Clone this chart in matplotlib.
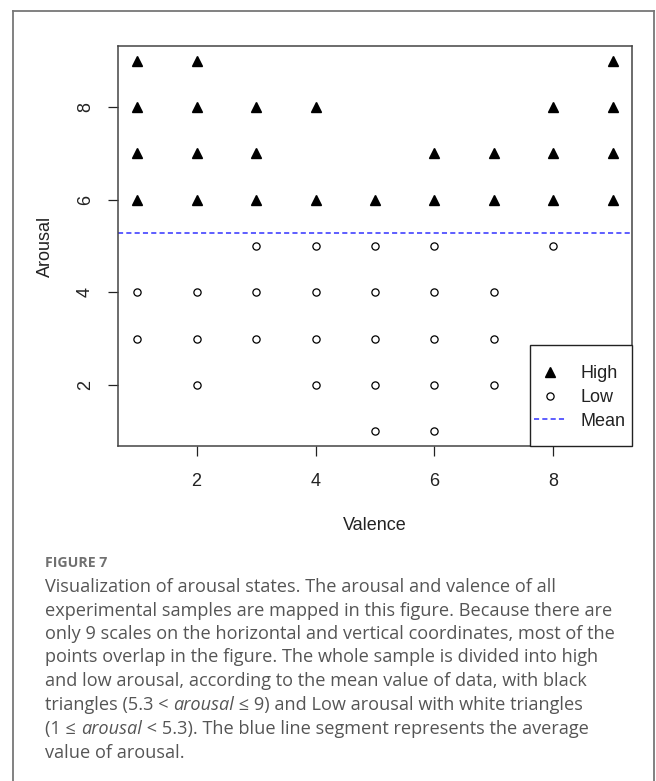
import matplotlib
matplotlib.use("Agg")
import matplotlib.pyplot as plt
from matplotlib.lines import Line2D
from matplotlib.patches import Rectangle
from matplotlib.font_manager import FontProperties

# ---- data ----
high_valence = [1, 1, 1, 1, 2, 2, 2, 2, 3, 3, 3, 4, 4, 5, 6, 6, 7, 7, 8, 8, 8, 9, 9, 9, 9]
high_arousal = [6, 7, 8, 9, 6, 7, 8, 9, 6, 7, 8, 6, 8, 6, 6, 7, 6, 7, 6, 7, 8, 6, 7, 8, 9]
low_valence = [1, 1, 2, 2, 2, 3, 3, 3, 4, 4, 4, 4, 5, 5, 5, 5, 5, 6, 6, 6, 6, 6, 7, 7, 7, 8]
low_arousal = [3, 4, 2, 3, 4, 3, 4, 5, 2, 3, 4, 5, 1, 2, 3, 4, 5, 1, 2, 3, 4, 5, 2, 3, 4, 5]
mean_arousal = 5.28
x_ticks = [2, 4, 6, 8]
y_ticks = [2, 4, 6, 8]
legend_labels = ["High", "Low", "Mean"]

W, H = 656, 781
fig = plt.figure(figsize=(W / 100, H / 100), dpi=100)

def fx(px):
    return px / W

def fy(py):
    return 1 - py / H

# axes box: left 118, right 632, top 46, bottom 446 (pixels)
ax = fig.add_axes([fx(118), fy(446), fx(632) - fx(118), fy(46) - fy(446)])

rfont = "Liberation Sans"
fs = 13
blue = "#3a3aff"

ax.plot(high_valence, high_arousal, linestyle="none", marker="^", ms=7.5,
        color="black", label=legend_labels[0])
ax.plot(low_valence, low_arousal, linestyle="none", marker="o", ms=5.2,
        markerfacecolor="white", markeredgecolor="black", markeredgewidth=0.9,
        label=legend_labels[1])
ax.axhline(mean_arousal, color=blue, linestyle=(0, (3.2, 2.0)), lw=1.15,
           label=legend_labels[2])

ax.set_xlim(0.68, 9.32)
ax.set_ylim(0.68, 9.32)
ax.set_xticks(x_ticks)
ax.set_yticks(y_ticks)
ax.tick_params(direction="out", length=7.2, width=0.9, color="#222",
               labelsize=fs, pad=12)
ax.tick_params(axis="y", labelrotation=90, pad=10)
for lab in ax.get_yticklabels():
    lab.set_va("center")
for lab in ax.get_xticklabels() + ax.get_yticklabels():
    lab.set_fontfamily(rfont)
    lab.set_color("#222")
for s in ax.spines.values():
    s.set_linewidth(1.1)
    s.set_color("#444")

# legend box (R style, flush with the bottom-right corner)
ax.add_patch(Rectangle((fx(530), fy(446)), fx(632) - fx(530), fy(345) - fy(446),
                       transform=fig.transFigure, facecolor="white",
                       edgecolor="#222", lw=1.0, zorder=5, clip_on=False))
leg = ax.legend(loc="center left", bbox_to_anchor=(fx(534), fy(397.5)),
                bbox_transform=fig.transFigure, frameon=False,
                prop=FontProperties(family=rfont, size=fs),
                handlelength=1.8, handletextpad=0.75, labelspacing=0.37,
                borderpad=0, borderaxespad=0)
leg.set_zorder(6)
for t in leg.get_texts():
    t.set_color("#222")

fig.text(fx(375), fy(526), "Valence", ha="center", va="center",
         family=rfont, fontsize=fs, color="#222")
fig.text(fx(45), fy(246), "Arousal", ha="center", va="center", rotation=90,
         family=rfont, fontsize=fs, color="#222")

# ---- outer frame ----
fcol = "#777777"
fig.add_artist(Line2D([fx(12.5), fx(12.5)], [fy(10.5), 0], color=fcol, lw=1.3))
fig.add_artist(Line2D([fx(12.5), fx(653.5)], [fy(10.5), fy(10.5)], color=fcol, lw=1.3))
fig.add_artist(Line2D([fx(653.5), fx(653.5)], [fy(10.5), 0], color=fcol, lw=1.3))

# ---- caption ----
cap_font = ["Open Sans", "DejaVu Sans"]
cap_col = "#555555"
cap_fs = 13.1
fig.text(fx(45), fy(563), "FIGURE 7", ha="left", va="center",
         family=cap_font, fontsize=10.2, fontweight="bold", color="#707070")

lines = [
    [("Visualization of arousal states. The arousal and valence of all", "normal")],
    [("experimental samples are mapped in this figure. Because there are", "normal")],
    [("only 9 scales on the horizontal and vertical coordinates, most of the", "normal")],
    [("points overlap in the figure. The whole sample is divided into high", "normal")],
    [("and low arousal, according to the mean value of data, with black", "normal")],
    [("triangles (5.3 < ", "normal"), ("arousal", "italic"),
     (" \u2264 9) and Low arousal with white triangles", "normal")],
    [("(1 \u2264 ", "normal"), ("arousal", "italic"),
     (" < 5.3). The blue line segment represents the average", "normal")],
    [("value of arousal.", "normal")],
]
line_y = [587, 610.5, 634, 657.5, 681, 705, 729, 752.5]

renderer = fig.canvas.get_renderer()

def seg_width(text, style):
    t1 = fig.text(0, 0, text + "x", family=cap_font, fontsize=cap_fs, style=style)
    t2 = fig.text(0, 0, "x", family=cap_font, fontsize=cap_fs, style=style)
    w = t1.get_window_extent(renderer).width - t2.get_window_extent(renderer).width
    t1.remove()
    t2.remove()
    return w

for segs, yp in zip(lines, line_y):
    xp = 45.0
    for text, style in segs:
        fig.text(fx(xp), fy(yp), text, ha="left", va="center", family=cap_font,
                 fontsize=cap_fs, style=style, color=cap_col)
        xp += seg_width(text, style)

fig.savefig("out.png", dpi=100)
